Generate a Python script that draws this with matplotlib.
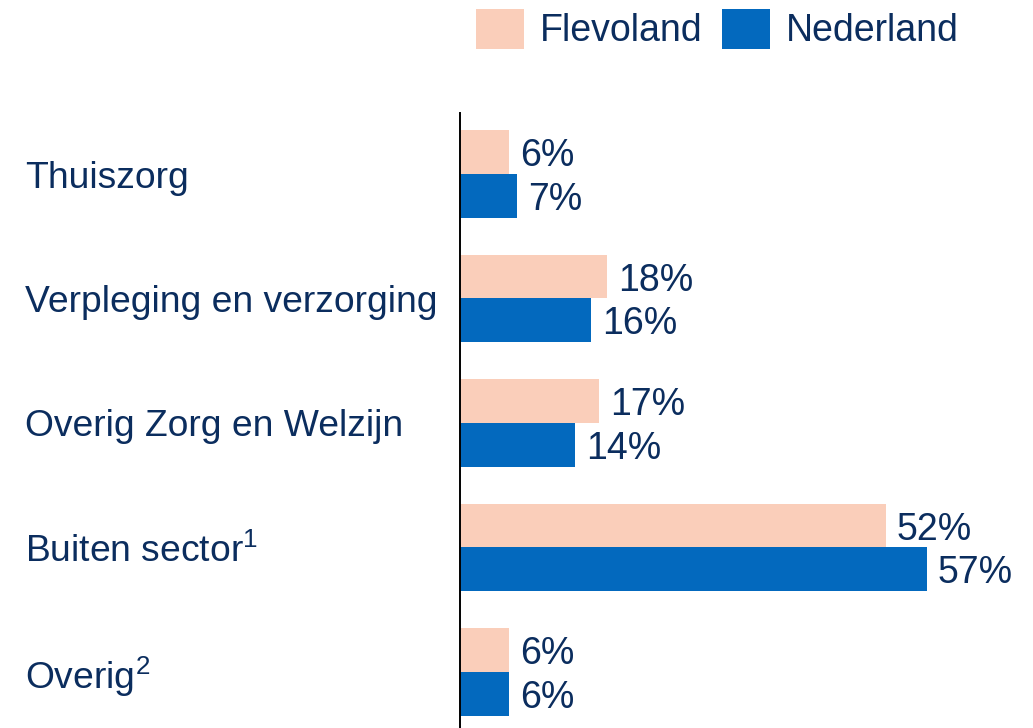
import matplotlib
matplotlib.use("Agg")
import matplotlib.pyplot as plt
from matplotlib.patches import Patch
from matplotlib.transforms import blended_transform_factory
import numpy as np

categories = ["Thuiszorg", "Verpleging en verzorging", "Overig Zorg en Welzijn",
              "Buiten sector$^{\\mathregular{1}}$", "Overig$^{\\mathregular{2}}$"]
flevoland = [6, 18, 17, 52, 6]
nederland = [7, 16, 14, 57, 6]
series_names = ["Flevoland", "Nederland"]

PEACH = "#FACEBA"
BLUE = "#0369BE"
TEXT = "#0B2D5E"

plt.rcParams["font.family"] = ["Liberation Sans", "DejaVu Sans"]
plt.rcParams["mathtext.fontset"] = "custom"
plt.rcParams["mathtext.rm"] = "Liberation Sans"
plt.rcParams["mathtext.it"] = "Liberation Sans"
plt.rcParams["mathtext.bf"] = "Liberation Sans"

fig = plt.figure(figsize=(10.33, 7.28), dpi=100)
ax = fig.add_axes([460 / 1033, 0.0, 1 - 460 / 1033, 1 - 113 / 728])

y = np.arange(len(categories))
h = 0.353
b1 = ax.barh(y - h / 2, flevoland, height=h, color=PEACH, label=series_names[0])
b2 = ax.barh(y + h / 2, nederland, height=h, color=BLUE, label=series_names[1])

for bars, vals in ((b1, flevoland), (b2, nederland)):
    for bar, v in zip(bars, vals):
        ax.annotate(f"{v}%", xy=(bar.get_width(), bar.get_y() + bar.get_height() / 2),
                    xytext=(8, 0), textcoords="offset points",
                    va="center_baseline", ha="left", fontsize=27, color=TEXT)

ax.set_xlim(0, 70)
ax.set_ylim(4.45, -0.49)
ax.set_xticks([])
ax.set_yticks([])
for s in ("top", "right", "bottom"):
    ax.spines[s].set_visible(False)
ax.spines["left"].set_linewidth(1.4)
ax.spines["left"].set_color("black")

trans = blended_transform_factory(fig.transFigure, ax.transData)
for yi, cat in zip(y, categories):
    fig.text(25 / 1033, yi, cat, transform=trans, fontsize=26.8, color=TEXT,
             ha="left", va="center_baseline")

handles = [Patch(facecolor=PEACH), Patch(facecolor=BLUE)]
leg = fig.legend(handles, series_names, loc="upper left",
                 bbox_to_anchor=(476 / 1033, 1 - 9 / 728), ncol=2, frameon=False,
                 fontsize=27, handlelength=1.28, handleheight=1.25,
                 handletextpad=0.43, columnspacing=0.5, borderaxespad=0.0,
                 borderpad=0.0)
for t in leg.get_texts():
    t.set_color(TEXT)

fig.savefig("out.png", dpi=100)
